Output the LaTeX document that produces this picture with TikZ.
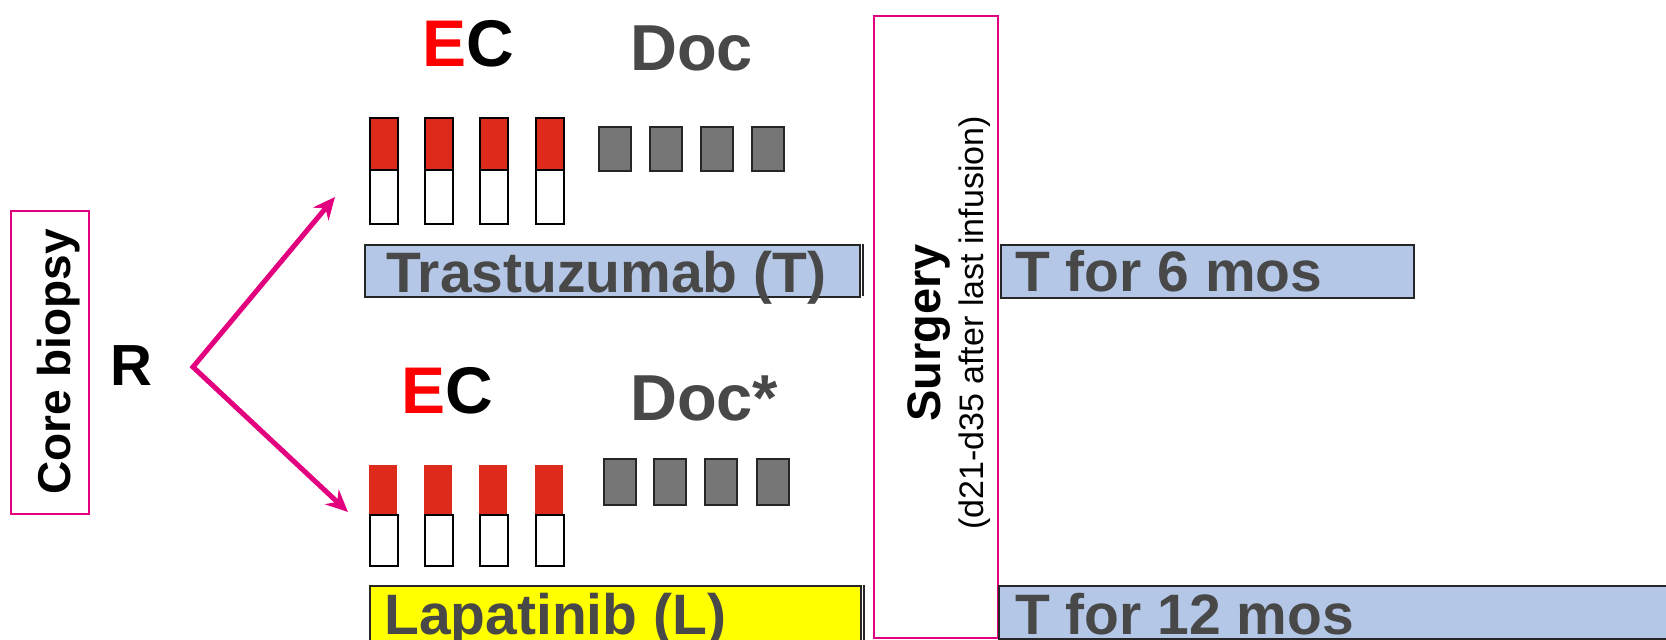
\documentclass[tikz,border=0pt]{standalone}
\usepackage{fontspec}
\setmainfont{Liberation Sans}
\usetikzlibrary{arrows.meta}
\definecolor{mag}{RGB}{226,0,126}
\definecolor{ecred}{RGB}{221,42,27}
\definecolor{docgray}{RGB}{118,118,118}
\definecolor{txtgray}{RGB}{72,72,72}
\definecolor{barblue}{RGB}{180,199,231}
\definecolor{baryellow}{RGB}{255,255,0}
\begin{document}
\begin{tikzpicture}[x=1pt,y=-1pt,
  magbox/.style={draw=mag,line width=2pt,fill=white,inner sep=0pt},
  redbox/.style={draw=black,line width=1.8pt,fill=ecred,minimum width=28pt,inner sep=0pt,anchor=north west},
  rednob/.style={fill=ecred,minimum width=28pt,inner sep=0pt,anchor=north west},
  whitebox/.style={draw=black,line width=1.8pt,fill=white,minimum width=28pt,inner sep=0pt,anchor=north west},
  docbox/.style={draw=black!85,line width=1.8pt,fill=docgray,minimum width=32pt,inner sep=0pt,anchor=north west},
  bar/.style={draw=black!85,line width=1.8pt,inner sep=0pt,anchor=north west},
  bartxt/.style={inner sep=0pt,anchor=base west,text=txtgray,font=\bfseries\fontsize{57}{60}\selectfont},
  bigtxt/.style={inner sep=0pt,anchor=base west,font=\bfseries\fontsize{66}{70}\selectfont},
  arrowline/.style={draw=mag,line width=5pt,line join=miter,{Stealth[length=22pt,width=20pt]}-{Stealth[length=22pt,width=20pt]}}
]
\useasboundingbox (0,0) rectangle (1666,640);

% Core biopsy
\node[magbox,minimum width=78pt,minimum height=303pt] (core) at (50,362.5) {};
\node[inner sep=0pt,rotate=90,anchor=base,font=\bfseries\fontsize{46}{50}\selectfont] (coretxt) at (70,362) {Core biopsy};

% R and split arrows
\node[inner sep=0pt,anchor=base west,font=\bfseries\fontsize{58}{60}\selectfont] (R) at (110,385) {R};
\coordinate (split) at (193,367);
\coordinate (up) at (335,197);
\coordinate (down) at (348,512);
\draw[arrowline] (up) -- (split) -- (down);

% Top arm labels
\node[bigtxt] (ectop) at (422,66) {\textcolor{red}{E}C};
\node[bigtxt,text=txtgray,font=\bfseries\fontsize{65}{70}\selectfont] (doctop) at (630,70) {Doc};

% Top EC boxes
\foreach \i/\x in {1/369,2/424,3/479,4/535}{
  \node[redbox,minimum height=52pt] (tr\i) at (\x,117) {};
  \node[whitebox,minimum height=54pt] (tw\i) at (\x,169) {};
}
% Top Doc boxes
\foreach \i/\x in {1/598,2/649,3/700,4/751}{
  \node[docbox,minimum height=44pt] (td\i) at (\x,126) {};
}

% Trastuzumab bar
\node[bar,fill=barblue,minimum width=495pt,minimum height=52pt] (trbar) at (364,244) {};
\draw[line width=1.8pt,black!85] (863,244) -- (863,296);
\node[bartxt] (trtxt) at (386,292) {Trastuzumab (T)};

% Bottom arm labels
\node[bigtxt] (ecbot) at (401,413) {\textcolor{red}{E}C};
\node[bigtxt,text=txtgray,font=\bfseries\fontsize{65}{70}\selectfont] (docbot) at (630,420) {Doc*};

% Bottom EC boxes
\foreach \i/\x in {1/369,2/424,3/479,4/535}{
  \node[rednob,minimum height=50pt] (br\i) at (\x,465) {};
  \node[whitebox,minimum height=51pt] (bw\i) at (\x,514) {};
}
% Bottom Doc boxes
\foreach \i/\x in {1/603,2/653,3/704,4/756}{
  \node[docbox,minimum height=46pt] (bd\i) at (\x,458) {};
}

% Lapatinib bar
\node[bar,fill=baryellow,minimum width=491pt,minimum height=60pt] (lpbar) at (369,585) {};
\draw[line width=1.8pt,black!85] (864,585) -- (864,640);
\node[bartxt] (lptxt) at (384,634) {Lapatinib (L)};

% Surgery
\node[magbox,minimum width=124pt,minimum height=622pt] (surg) at (936,327) {};
\node[inner sep=0pt,rotate=90,anchor=base,font=\bfseries\fontsize{47}{50}\selectfont] (surgtxt) at (940,333) {Surgery};
\node[inner sep=0pt,rotate=90,anchor=base,font=\fontsize{34}{36}\selectfont] (surgsub) at (983,323) {(d21-d35 after last infusion)};

% Post-surgery T bars
\node[bar,fill=barblue,minimum width=413pt,minimum height=53pt] (t6bar) at (1000,244) {};
\node[bartxt] (t6txt) at (1015,291) {T for 6 mos};
\node[bar,fill=barblue,minimum width=680pt,minimum height=53pt] (t12bar) at (998,585) {};
\node[bartxt] (t12txt) at (1015,634) {T for 12 mos};
\end{tikzpicture}
\end{document}
